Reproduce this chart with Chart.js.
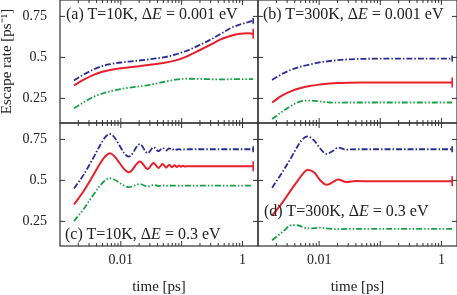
<!DOCTYPE html>
<html>
<head>
<meta charset="utf-8">
<script src="https://cdn.jsdelivr.net/npm/chart.js@4.4.1/dist/chart.umd.min.js"></script>
<style>
  html, body { margin: 0; padding: 0; background: #fff; }
  #wrap { position: relative; width: 457px; height: 295px; overflow: hidden; font-family: "Liberation Serif", serif; color: #222; }
  #wrap canvas { position: absolute; left: 0; top: 0; }
  .lbl { position: absolute; font-size: 16px; line-height: 16px; white-space: nowrap; }
</style>
</head>
<body>
<div id="wrap">
  <canvas id="pa" width="457" height="295"></canvas>
  <canvas id="pb" width="457" height="295"></canvas>
  <canvas id="pc" width="457" height="295"></canvas>
  <canvas id="pd" width="457" height="295"></canvas>
  <div class="lbl" style="left:66px;top:6px">(a) T=10K, &Delta;<i>E</i> = 0.001 eV</div>
  <div class="lbl" style="left:263px;top:6px">(b) T=300K, &Delta;<i>E</i> = 0.001 eV</div>
  <div class="lbl" style="left:65px;top:226px">(c) T=10K, &Delta;<i>E</i> = 0.3 eV</div>
  <div class="lbl" style="left:264px;top:203px">(d) T=300K, &Delta;<i>E</i> = 0.3 eV</div>
</div>
<script>
// time grid [ps] for the smooth panels (a) and (b)
const timeAB = [0.0017, 0.0025, 0.0035, 0.005, 0.007, 0.01, 0.015, 0.02, 0.03, 0.05, 0.08, 0.12, 0.2, 0.3, 0.45, 0.65, 0.9, 1.2, 1.5];

const blueA  = [0.36, 0.397, 0.425, 0.448, 0.46, 0.469, 0.476, 0.481, 0.489, 0.5, 0.518, 0.54, 0.576, 0.609, 0.646, 0.68, 0.7, 0.714, 0.724];
const redA   = [0.33, 0.366, 0.392, 0.412, 0.425, 0.434, 0.441, 0.446, 0.455, 0.466, 0.482, 0.505, 0.545, 0.578, 0.612, 0.632, 0.644, 0.648, 0.644];
const greenA = [0.19, 0.228, 0.258, 0.28, 0.295, 0.307, 0.317, 0.323, 0.333, 0.35, 0.364, 0.37, 0.369, 0.367, 0.366, 0.367, 0.367, 0.367, 0.367];

const blueB  = [0.363, 0.4, 0.425, 0.444, 0.457, 0.469, 0.478, 0.483, 0.488, 0.491, 0.492, 0.493, 0.493, 0.493, 0.493, 0.493, 0.493, 0.493, 0.493];
const redB   = [0.225, 0.268, 0.294, 0.313, 0.325, 0.334, 0.341, 0.344, 0.346, 0.347, 0.347, 0.347, 0.347, 0.347, 0.347, 0.347, 0.347, 0.347, 0.347];
const greenB = [0.124, 0.17, 0.205, 0.232, 0.237, 0.232, 0.225, 0.224, 0.225, 0.225, 0.225, 0.225, 0.225, 0.225, 0.225, 0.225, 0.225, 0.225, 0.225];

// panel (c): ringing, points at the turning points
const timeC  = [0.0017, 0.0025, 0.0035, 0.0045, 0.0055, 0.0066, 0.0136, 0.0206, 0.0276, 0.0346, 0.0416, 0.0486, 0.0556, 0.0626, 0.0696, 0.0766, 0.0836, 0.0906, 0.0976, 0.1046, 0.1116, 0.13, 0.2, 0.4, 0.8, 1.5];
const blueC  = [0.451, 0.54, 0.635, 0.71, 0.762, 0.783, 0.645, 0.721, 0.666, 0.702, 0.678, 0.698, 0.682, 0.695, 0.685, 0.693, 0.687, 0.691, 0.688, 0.69, 0.689, 0.69, 0.69, 0.69, 0.69, 0.69];
const redC   = [0.353, 0.44, 0.53, 0.6, 0.645, 0.666, 0.549, 0.616, 0.57, 0.606, 0.575, 0.6, 0.578, 0.596, 0.58, 0.593, 0.582, 0.591, 0.583, 0.589, 0.585, 0.587, 0.586, 0.586, 0.586, 0.586];
const greenC = [0.252, 0.33, 0.41, 0.465, 0.5, 0.513, 0.459, 0.478, 0.463, 0.472, 0.466, 0.47, 0.467, 0.469, 0.468, 0.468, 0.468, 0.468, 0.468, 0.468, 0.468, 0.468, 0.468, 0.468, 0.468, 0.468];

// panel (d)
const timeD  = [0.0017, 0.0025, 0.0036, 0.0046, 0.0055, 0.0065, 0.0085, 0.0102, 0.0132, 0.0165, 0.0204, 0.028, 0.04, 0.07, 0.15, 0.4, 1.0, 1.5];
const blueD  = [0.455, 0.55, 0.648, 0.717, 0.755, 0.768, 0.738, 0.698, 0.662, 0.678, 0.7, 0.688, 0.69, 0.69, 0.69, 0.69, 0.69, 0.69];
const redD   = [0.285, 0.365, 0.45, 0.505, 0.543, 0.565, 0.545, 0.505, 0.473, 0.488, 0.506, 0.49, 0.496, 0.495, 0.495, 0.495, 0.495, 0.495];
const greenD = [0.135, 0.185, 0.228, 0.225, 0.215, 0.207, 0.209, 0.212, 0.208, 0.204, 0.203, 0.204, 0.204, 0.204, 0.204, 0.204, 0.204, 0.204];

const xTickVals = [0.01, 1];
const xTickText = ['0.01', '1'];
const yTickVals = [0.25, 0.5, 0.75];
const yTickText = ['0.25', '0.5', '0.75'];

const BLUE = '#2b2b96';
const RED = '#e8202c';
const GREEN = '#18a048';

Chart.defaults.font.family = '"Liberation Serif", serif';
Chart.defaults.color = '#222';

// frame and inward tick marks on all four sides
const frame = {
  id: 'frame',
  afterDraw(chart) {
    const { ctx, chartArea: a, scales: { x, y } } = chart;
    ctx.save();
    ctx.strokeStyle = '#333';
    ctx.lineWidth = 1.2;
    ctx.strokeRect(a.left, a.top, a.right - a.left, a.bottom - a.top);
    ctx.lineWidth = 1;
    ctx.beginPath();
    for (let k = -3; k <= 0; k++) {
      for (let m = 1; m <= 9; m++) {
        const v = m * Math.pow(10, k);
        if (v <= x.min || v >= x.max) continue;
        const px = x.getPixelForValue(v);
        const len = m === 1 ? 5 : 3;
        ctx.moveTo(px, a.top); ctx.lineTo(px, a.top + len);
        ctx.moveTo(px, a.bottom); ctx.lineTo(px, a.bottom - len);
      }
    }
    for (const v of yTickVals) {
      const py = y.getPixelForValue(v);
      ctx.moveTo(a.left, py); ctx.lineTo(a.left + 5, py);
      ctx.moveTo(a.right, py); ctx.lineTo(a.right - 5, py);
    }
    ctx.stroke();
    ctx.restore();
  }
};

const pts = (t, v) => t.map((x, i) => ({ x, y: v[i] }));

function series(t, v, color, dash, width, mark) {
  const n = t.length;
  return {
    data: pts(t, v),
    borderColor: color,
    borderWidth: width,
    borderDash: dash,
    cubicInterpolationMode: 'monotone',
    pointStyle: 'line',
    rotation: 90,
    pointRadius: c => (c.dataIndex === n - 1 ? mark : 0),
    pointBorderColor: color,
    pointBorderWidth: 1.6,
    pointHitRadius: 0
  };
}

function panel(id, t, blue, red, green, pos) {
  const showX = pos.row === 1;
  const showY = pos.col === 0;
  const left = showY ? 0 : 258;
  const right = showY ? 199 : 0;
  const top = showX ? 123 : 0;
  const bottom = showX ? 0 : 172;
  return new Chart(document.getElementById(id), {
    type: 'line',
    data: {
      datasets: [
        series(t, green, GREEN, [6, 2, 1.5, 2, 1.5, 2], 1.8, 0),
        series(t, red, RED, [], 2, 5),
        series(t, blue, BLUE, [6, 2, 1.5, 2], 1.8, 3)
      ]
    },
    options: {
      responsive: false,
      animation: false,
      devicePixelRatio: 1,
      layout: { autoPadding: false, padding: { left, right, top, bottom } },
      plugins: { legend: { display: false }, tooltip: { enabled: false } },
      scales: {
        x: {
          type: 'logarithmic',
          min: 0.001,
          max: 1.8,
          display: showX,
          afterFit: s => { s.height = showX ? 49 : 0; s.paddingLeft = 0; s.paddingRight = 0; },
          afterBuildTicks: s => { s.ticks = xTickVals.map(v => ({ value: v })); },
          grid: { display: false, drawTicks: false },
          border: { display: false },
          ticks: { padding: 6, autoSkip: false, maxRotation: 0, font: { size: 14 }, callback: (v, i) => xTickText[i] },
          title: { display: true, text: 'time [ps]', font: { size: 15, lineHeight: 1 }, padding: 0 }
        },
        y: {
          min: 0.1,
          max: 0.85,
          display: showY,
          afterFit: s => { s.width = showY ? 60 : 0; s.paddingTop = 0; s.paddingBottom = 0; },
          afterBuildTicks: s => { s.ticks = yTickVals.map(v => ({ value: v })); },
          grid: { display: false, drawTicks: false },
          border: { display: false },
          ticks: { padding: 13, font: { size: 14 }, callback: (v, i) => yTickText[i] },
          title: { display: id === 'pa', text: 'Escape rate [ps⁻¹]', font: { size: 15, lineHeight: 1 }, padding: 0 }
        }
      }
    },
    plugins: [frame]
  });
}

panel('pa', timeAB, blueA, redA, greenA, { row: 0, col: 0 });
panel('pb', timeAB, blueB, redB, greenB, { row: 0, col: 1 });
panel('pc', timeC, blueC, redC, greenC, { row: 1, col: 0 });
panel('pd', timeD, blueD, redD, greenD, { row: 1, col: 1 });
</script>
</body>
</html>
